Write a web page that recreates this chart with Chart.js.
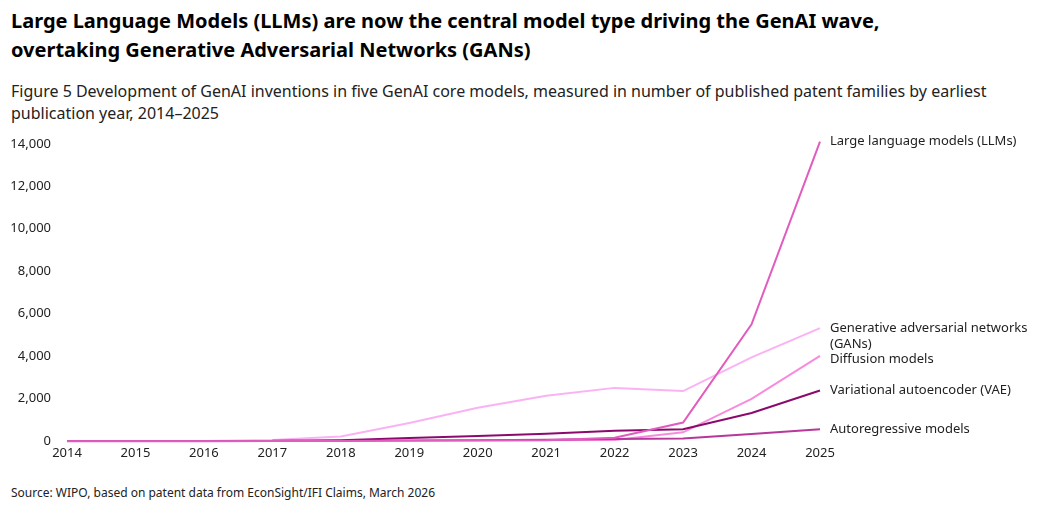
<!DOCTYPE html>
<html>
<head>
<meta charset="utf-8">
<script src="https://cdn.jsdelivr.net/npm/chart.js@4"></script>
<style>
  body { margin: 0; background: #fff; font-family: "Noto Sans", sans-serif; color: #222; }
  #wrap { position: relative; width: 1040px; height: 512px; }
  h1 { position: absolute; left: 11px; top: 6px; margin: 0; font-size: 20px; line-height: 29px; font-weight: 700; color: #000; }
  .sub { position: absolute; left: 11px; top: 80px; margin: 0; font-size: 16px; line-height: 22px; width: 1010px; }
  .src { position: absolute; left: 11px; top: 484px; font-size: 12px; }
  #box { position: absolute; left: 0; top: 120px; width: 1040px; height: 345px; }
</style>
</head>
<body>
<div id="wrap">
  <h1>Large Language Models (LLMs) are now the central model type driving the GenAI wave,<br>overtaking Generative Adversarial Networks (GANs)</h1>
  <p class="sub">Figure 5 Development of GenAI inventions in five GenAI core models, measured in number of published patent families by earliest publication year, 2014–2025</p>
  <div id="box"><canvas id="chart"></canvas></div>
  <div class="src">Source: WIPO, based on patent data from EconSight/IFI Claims, March 2026</div>
</div>
<script>
const years = ['2014','2015','2016','2017','2018','2019','2020','2021','2022','2023','2024','2025'];
const llm = [0, 0, 0, 5, 10, 20, 30, 50, 160, 880, 5500, 14100];
const gan = [0, 0, 10, 60, 220, 860, 1570, 2140, 2510, 2360, 3950, 5320];
const diffusion = [0, 0, 0, 0, 5, 10, 20, 30, 60, 420, 1990, 4020];
const vae = [null, null, null, 20, 50, 150, 250, 350, 490, 560, 1330, 2390];
const autoreg = [0, 0, 0, 5, 15, 30, 45, 70, 100, 130, 340, 560];
const seriesNames = [['Large language models (LLMs)'], ['Generative adversarial networks', '(GANs)'], ['Diffusion models'], ['Variational autoencoder (VAE)'], ['Autoregressive models']];

// series names next to the last point of each line, pushed down a bit if they collide
const endLabels = {
  id: 'endLabels',
  afterDatasetsDraw(chart) {
    const ctx = chart.ctx;
    const lineH = 16;
    ctx.save();
    ctx.font = '13px "Noto Sans"';
    ctx.fillStyle = '#222';
    ctx.textAlign = 'left';
    ctx.textBaseline = 'middle';
    const items = chart.data.datasets.map((ds, i) => {
      const pts = chart.getDatasetMeta(i).data;
      const p = pts[pts.length - 1];
      return { x: p.x, y: p.y, lines: seriesNames[i] };
    }).sort((a, b) => a.y - b.y);
    let lastY = -Infinity;
    items.forEach(it => {
      let y = Math.max(it.y, lastY + lineH - 1);
      it.lines.forEach((line, j) => {
        ctx.fillText(line, it.x + 10, y + j * lineH);
      });
      lastY = y + (it.lines.length - 1) * lineH;
    });
    ctx.restore();
  }
};

new Chart(document.querySelector('#chart').getContext('2d'), {
  type: 'line',
  data: {
    labels: years,
    datasets: [
      { label: 'LLMs', data: llm, borderColor: '#e05cbf', order: 1, clip: false },
      { label: 'GANs', data: gan, borderColor: '#fbb2f4', order: 5 },
      { label: 'Diffusion', data: diffusion, borderColor: '#f98bdc', order: 4 },
      { label: 'VAE', data: vae, borderColor: '#8c0a6e', order: 3 },
      { label: 'Autoregressive', data: autoreg, borderColor: '#b8379a', order: 2 }
    ]
  },
  options: {
    responsive: true,
    maintainAspectRatio: false,
    animation: false,
    layout: { padding: { top: 2, right: 220, left: 10, bottom: 0 } },
    elements: {
      line: { borderWidth: 2, tension: 0 },
      point: { radius: 0 }
    },
    plugins: { legend: { display: false }, tooltip: { enabled: false } },
    scales: {
      x: {
        grid: { display: false, drawTicks: false },
        border: { display: false },
        ticks: { color: '#222', font: { family: 'Noto Sans', size: 13 }, maxRotation: 0, padding: 4 }
      },
      y: {
        min: 0, max: 14000,
        afterFit: s => { s.width = 57; },
        grid: { display: false, drawTicks: false },
        border: { display: false },
        ticks: {
          stepSize: 2000, color: '#222', padding: 16,
          font: { family: 'Noto Sans', size: 13 },
          callback: v => v.toLocaleString('en-US')
        }
      }
    }
  },
  plugins: [endLabels]
});
</script>
</body>
</html>
